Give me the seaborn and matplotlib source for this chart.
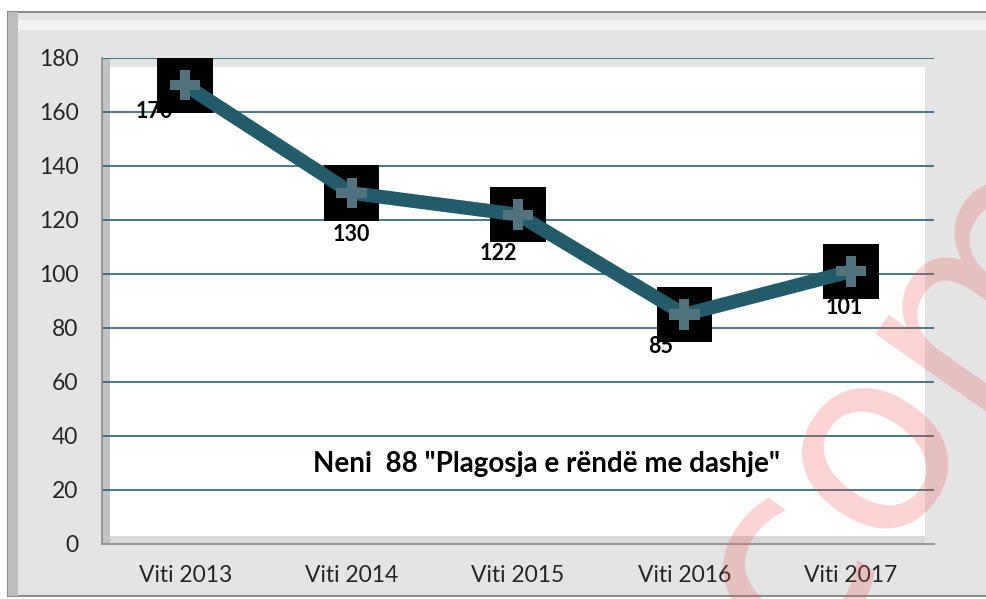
import numpy as np
import matplotlib
matplotlib.use("Agg")
import matplotlib.pyplot as plt
import matplotlib.patches as mpatches
import seaborn as sns

# DATA
years = ["Viti 2013", "Viti 2014", "Viti 2015", "Viti 2016", "Viti 2017"]
cases = [170, 130, 122, 85, 101]
y_ticks = [0, 20, 40, 60, 80, 100, 120, 140, 160, 180]
note = 'Neni  88 "Plagosja e rëndë me dashje"'

# label offsets (points) for the value labels
label_dx = [-22, 0, -14, -17, -5]
label_dy = [-19, -30, -28, -23, -26]

LINE = "#235B6A"
GRID = "#2D6070"
BG = "#E4E4E4"

sns.set_style("white")
plt.rcParams["font.family"] = ["Lato", "DejaVu Sans"]

W, H = 987, 599
fig = plt.figure(figsize=(W / 100, H / 100), dpi=100)
fig.patch.set_facecolor("white")


def fx(px):
    return px / W


def fy(py):
    return 1 - py / H


# outer chart frame
fig.patches.append(mpatches.Rectangle((fx(8), fy(596)), fx(990 - 8), fy(12) - fy(596),
                                      transform=fig.transFigure, facecolor=BG,
                                      edgecolor="#8C8C8C", linewidth=1.5, zorder=-3))
fig.patches.append(mpatches.Rectangle((fx(8), fy(596)), fx(10), fy(12) - fy(596),
                                      transform=fig.transFigure, facecolor="#BDBDBD",
                                      edgecolor="none", zorder=-2))
fig.patches.append(mpatches.Rectangle((fx(18), fy(30)), fx(990 - 18), fy(20) - fy(30),
                                      transform=fig.transFigure, facecolor="#F2F2F2",
                                      edgecolor="none", zorder=-2))

ax = fig.add_axes([fx(102), fy(544), fx(934 - 102), fy(58) - fy(544)])
ax.set_zorder(1)
ax.set_facecolor("none")
ax.set_xlim(-0.5, 4.5)
ax.set_ylim(0, 180)

# 3d-ish wall: white back wall, grey side wall and floor
ax.add_patch(mpatches.Rectangle((-0.452, 3.0), 4.9, 173.7, facecolor="white",
                                edgecolor="none", zorder=0))
ax.add_patch(mpatches.Rectangle((-0.5, 0), 0.048, 180, facecolor="#C2C2C2",
                                edgecolor="none", zorder=0.2))
ax.add_patch(mpatches.Rectangle((-0.452, 0), 4.9, 3.0, facecolor="#D9D9D9",
                                edgecolor="none", zorder=0.2))

for v in y_ticks[1:]:
    ax.axhline(v, color=GRID, linewidth=1.2, zorder=1)

# markers (black squares), line, then small crosses
sns.scatterplot(x=years, y=cases, marker="s", s=40 ** 2, color="black",
                edgecolor="none", ax=ax, zorder=3, legend=False)
sns.lineplot(x=years, y=cases, color=LINE, linewidth=10, ax=ax, zorder=4,
             solid_capstyle="butt")
sns.scatterplot(x=years, y=cases, marker="P", s=22 ** 2, color="#52737D",
                edgecolor="none", ax=ax, zorder=5, legend=False)

for i, v in enumerate(cases):
    ax.annotate(str(v), (i, v), xytext=(label_dx[i], label_dy[i]),
                textcoords="offset points", ha="center", va="center",
                fontsize=15.5, fontweight="bold", color="black", zorder=2.5)

ax.text(2.17, 26.5, note, ha="center", va="baseline", fontsize=20,
        fontweight="bold", color="black", zorder=6)

# axes styling
ax.set_yticks(y_ticks)
ax.set_xticks(range(len(years)))
ax.set_xticklabels(years)
ax.set_xticks(np.arange(-0.5, 5, 1), minor=True)
ax.tick_params(axis="x", which="major", length=0, pad=15, labelsize=16.5)
ax.tick_params(axis="x", which="minor", length=6, width=1, color="#8C8C8C",
               direction="out")
ax.tick_params(axis="y", length=6, width=1, color="#8C8C8C", pad=11,
               labelsize=16.5, direction="out")
ax.set_xlabel("")
ax.set_ylabel("")
for side in ["top", "right"]:
    ax.spines[side].set_visible(False)
for side in ["left", "bottom"]:
    ax.spines[side].set_color("#8C8C8C")
    ax.spines[side].set_linewidth(1.2)
    ax.spines[side].set_zorder(2)

# watermark
fig.text(fx(802), fy(666), "com", rotation=55, rotation_mode="anchor",
         ha="left", va="baseline", fontsize=185, color="#F05050", alpha=0.25,
         family="DejaVu Sans", zorder=10)

fig.savefig("out.png", dpi=100)
